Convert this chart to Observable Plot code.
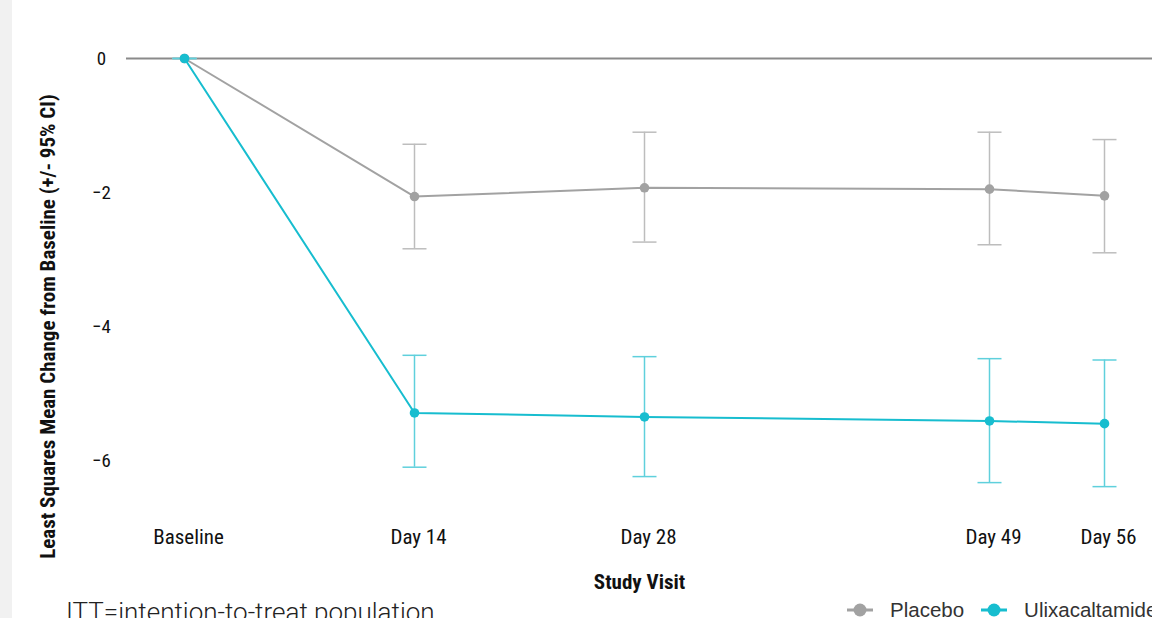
<!DOCTYPE html>
<html>
<head>
<meta charset="utf-8">
<script src="https://cdn.jsdelivr.net/npm/d3@7"></script>
<script src="https://cdn.jsdelivr.net/npm/@observablehq/plot@0.6"></script>
<style>
  html, body { margin: 0; padding: 0; background: #fff; overflow: hidden; }
  body { width: 1152px; height: 618px; position: relative; }
  #strip { position: absolute; left: 0; top: 0; width: 12px; height: 618px; background: #f1f1f1; }
  #chart { position: absolute; left: 0; top: 0; }
  #caption { position: absolute; left: 66px; top: 599px; font-family: Roboto, sans-serif; font-weight: 300; font-size: 26px; line-height: 1; color: #222; white-space: nowrap; }
  #legend { position: absolute; left: 847px; top: 600px; font-family: "Liberation Sans", Arial, sans-serif; font-size: 20.5px; line-height: 20px; color: #333; white-space: nowrap; display: flex; align-items: center; }
  #legend .item { display: flex; align-items: center; margin-right: 17px; }
  #legend svg { margin-right: 17px; }
</style>
</head>
<body>
<div id="strip"></div>
<div id="chart"></div>
<div id="caption">ITT=intention-to-treat population</div>
<div id="legend"></div>
<script>
// ---- data ----
const visits = ["Baseline", "Day 14", "Day 28", "Day 49", "Day 56"];
const visitDays = [0, 14, 28, 49, 56];
const seriesNames = ["Placebo", "Ulixacaltamide"];
const placeboMean = [0, -2.06, -1.93, -1.95, -2.05];
const placeboLower = [0, -2.84, -2.74, -2.78, -2.90];
const placeboUpper = [0, -1.28, -1.10, -1.10, -1.21];
const ulixMean = [0, -5.29, -5.35, -5.41, -5.45];
const ulixLower = [0, -6.10, -6.24, -6.33, -6.39];
const ulixUpper = [0, -4.43, -4.45, -4.48, -4.50];
const yTicks = [0, -2, -4, -6];

const lineColors = ["#a2a2a2", "#17bdcf"];
const barColors = ["#bdbdbd", "#5fd0dc"];

const rows = [];
[[placeboMean, placeboLower, placeboUpper], [ulixMean, ulixLower, ulixUpper]].forEach(([m, lo, hi], s) => {
  visitDays.forEach((d, i) => rows.push({series: seriesNames[s], day: d, visit: visits[i], mean: m[i], lo: lo[i], hi: hi[i]}));
});

const capSymbol = {
  draw(context, size) {
    const r = Math.sqrt(size / Math.PI);
    context.moveTo(-r, 0);
    context.lineTo(r, 0);
  }
};

const condensed = '"Roboto Condensed", "Liberation Sans Narrow", "DejaVu Sans Condensed", sans-serif';

const marks = [
  Plot.ruleY([0], {stroke: "#8a8a8a", strokeWidth: 2})
];
seriesNames.forEach((name, s) => {
  const data = rows.filter(r => r.series === name);
  marks.push(
    Plot.ruleX(data, {x: "day", y1: "lo", y2: "hi", stroke: barColors[s], strokeWidth: 1.5}),
    Plot.dot(data, {x: "day", y: "lo", symbol: capSymbol, r: 12, stroke: barColors[s], strokeWidth: 1.5, fill: "none"}),
    Plot.dot(data, {x: "day", y: "hi", symbol: capSymbol, r: 12, stroke: barColors[s], strokeWidth: 1.5, fill: "none"})
  );
});
seriesNames.forEach((name, s) => {
  const data = rows.filter(r => r.series === name);
  marks.push(
    Plot.line(data, {x: "day", y: "mean", stroke: lineColors[s], strokeWidth: 2}),
    Plot.dot(data, {x: "day", y: "mean", r: 4.8, fill: lineColors[s], stroke: "none"})
  );
});
marks.push(
  Plot.axisY({ticks: yTicks, tickFormat: d3.format("d"), tickSize: 0, tickPadding: 25, textAnchor: "middle", fontSize: 19, fontFamily: condensed, fill: "#111", label: null}),
  Plot.axisY({ticks: [], label: "Least Squares Mean Change from Baseline (+/- 95% CI)", labelArrow: "none", labelAnchor: "center", labelOffset: 86, fontSize: 21, fontFamily: condensed, fontWeight: "bold", fill: "#111"}),
  Plot.axisX({ticks: visitDays, tickFormat: (d) => visits[visitDays.indexOf(d)], tickSize: 0, tickPadding: 7, dx: 4, fontSize: 21, fontFamily: condensed, fill: "#111", label: null}),
  Plot.axisX({ticks: [], label: "Study Visit", labelArrow: "none", labelAnchor: "center", labelOffset: 66, fontSize: 21, fontFamily: condensed, fontWeight: "bold", fill: "#111"})
);

const chart = Plot.plot({
  width: 1152,
  height: 592,
  marginLeft: 126,
  marginRight: 0,
  marginTop: 130,
  marginBottom: 70,
  style: {background: "transparent", overflow: "visible"},
  x: {domain: [0, 56], range: [184, 1104]},
  y: {domain: [0, -6], range: [58, 460]},
  marks
});
// remove any label arrows left by older versions
chart.querySelectorAll("text").forEach(t => {
  if (/[→↑↓←]/.test(t.textContent)) t.textContent = t.textContent.replace(/\s*[→↑↓←]\s*/g, "").trim();
});
document.getElementById("chart").appendChild(chart);

// legend
const legend = document.getElementById("legend");
seriesNames.forEach((name, s) => {
  const item = document.createElement("div");
  item.className = "item";
  item.innerHTML = `<svg width="26" height="14"><line x1="0" y1="7" x2="26" y2="7" stroke="${lineColors[s]}" stroke-width="3"/><circle cx="13" cy="7" r="6.5" fill="${lineColors[s]}"/></svg><span>${name}</span>`;
  legend.appendChild(item);
});
</script>
</body>
</html>
